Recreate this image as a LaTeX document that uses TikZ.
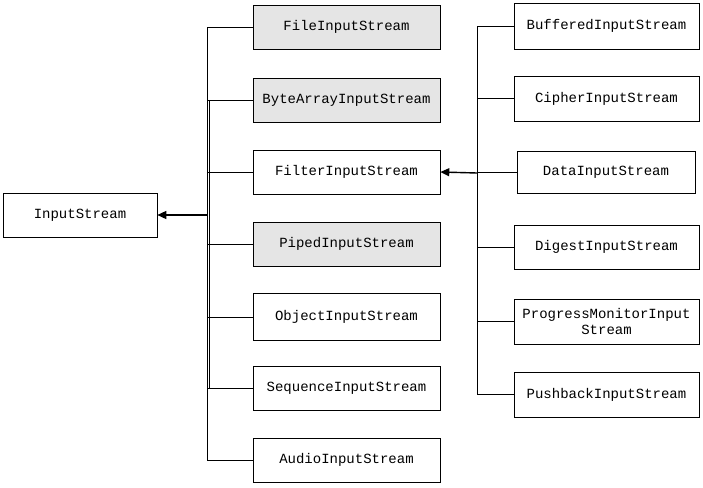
\documentclass[tikz,border=0pt]{standalone}
\usepackage{fontspec}
\usetikzlibrary{arrows.meta}
\setmainfont{Liberation Mono}
\begin{document}
\begin{tikzpicture}[x=1pt,y=-1pt,
 box/.style={draw,line width=0.6pt,minimum height=44pt,inner sep=0pt,font=\fontsize{14}{15.5}\selectfont,align=center},
 g/.style={fill=gray!20},
 ln/.style={line width=0.6pt},
 arr/.style={line width=1.4pt,-{Triangle[length=9pt,width=8pt]}}]
\useasboundingbox (0,0) rectangle (703,487);
\node[box,minimum width=154pt] (is) at (80,215) {InputStream};
\node[box,g,minimum width=187pt] (m1) at (346.5,27) {FileInputStream};
\node[box,g,minimum width=187pt] (m2) at (346.5,100) {ByteArrayInputStream};
\node[box,minimum width=187pt] (m3) at (346.5,172) {FilterInputStream};
\node[box,g,minimum width=187pt] (m4) at (346.5,244) {PipedInputStream};
\node[box,minimum width=187pt,minimum height=47pt] (m5) at (346.5,317) {ObjectInputStream};
\node[box,minimum width=187pt] (m6) at (346.5,388) {SequenceInputStream};
\node[box,minimum width=187pt] (m7) at (346.5,460) {AudioInputStream};
\node[box,minimum width=185pt,minimum height=46pt] (r1) at (606.5,26) {BufferedInputStream};
\node[box,minimum width=185pt,minimum height=45pt] (r2) at (606.5,98.5) {CipherInputStream};
\node[box,minimum width=178pt,minimum height=42pt] (r3) at (606,172) {DataInputStream};
\node[box,minimum width=185pt] (r4) at (606.5,247) {DigestInputStream};
\node[box,minimum width=185pt,minimum height=45pt] (r5) at (606.5,321.5) {ProgressMonitorInput\\Stream};
\node[box,minimum width=185pt,minimum height=45pt] (r6) at (606.5,394.5) {PushbackInputStream};
\coordinate (j1) at (207,215);
\coordinate (j2) at (477,173);
\draw[ln] (m1.west) -- (207,27) -- (207,460) -- (m7.west);
\draw[line width=0.6pt] (209,100) -- (209,388);
\foreach \n in {m2,m3,m4,m5,m6} \draw[ln] (\n.west) -- (\n.west -| j1);
\draw[arr] (j1) -- (is.east);
\draw[ln] (r1.west) -- (477,26) -- (477,394.5) -- (r6.west);
\foreach \n in {r2,r3,r4,r5} \draw[ln] (\n.west) -- (\n.west -| j2);
\draw[arr] (j2) -- (m3.east);
\end{tikzpicture}
\end{document}
